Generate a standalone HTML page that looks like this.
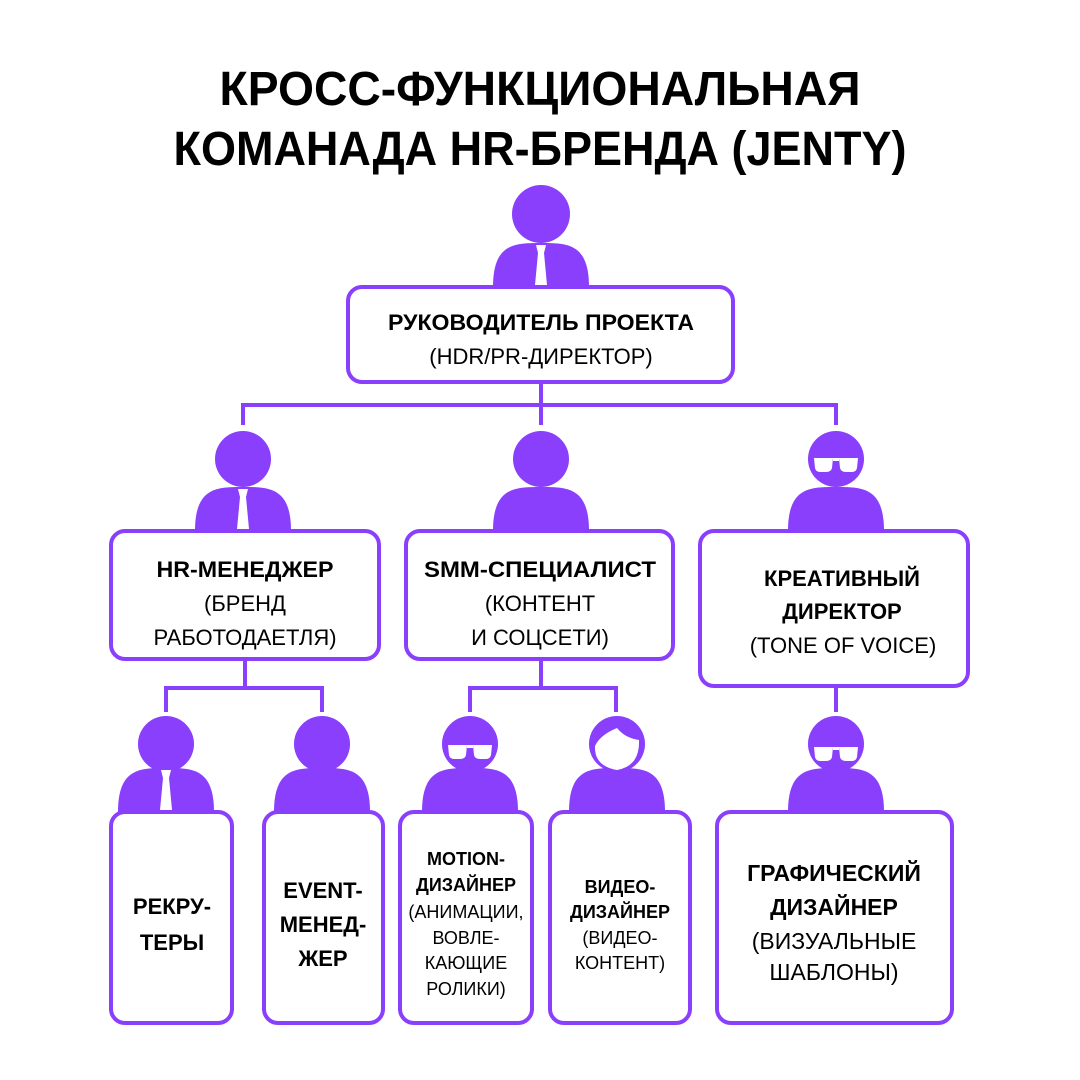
<!DOCTYPE html>
<html><head><meta charset="utf-8"><style>html,body{margin:0;padding:0;background:#fff}svg{display:block}</style></head>
<body>
<svg width="1080" height="1080" viewBox="0 0 1080 1080" xmlns="http://www.w3.org/2000/svg" font-family="Liberation Sans, sans-serif">
<defs>
<g id="body"><path d="M-48 0 C-48 -44 -26 -44 0 -44 C26 -44 48 -44 48 0 Z" fill="#8a3ffc"/></g>
<g id="tie"><path d="M-5 -42 L5 -42 L3 -34 L6 -2 L-6 -2 L-3 -34 Z" fill="#fff"/></g>
<g id="glasses" fill="#fff"><path d="M-22 -5 L-3 -5 L-4 5 Q-5 9 -10 9 L-16 9 Q-20 9 -21 5 Z M3 -5 L22 -5 L21 5 Q20 9 16 9 L10 9 Q5 9 4 5 Z M-3 -5 L3 -5 L3 -2 L-3 -2 Z"/></g>
</defs>
<rect width="1080" height="1080" fill="#fff"/>
<g font-weight="bold" font-size="48" text-anchor="middle" fill="#000">
<text x="540" y="105" textLength="641" lengthAdjust="spacingAndGlyphs">КРОСС-ФУНКЦИОНАЛЬНАЯ</text>
<text x="540" y="165" textLength="733" lengthAdjust="spacingAndGlyphs">КОМАНАДА HR-БРЕНДА (JENTY)</text>
</g>
<g stroke="#8a3ffc" stroke-width="4" fill="none">
<path d="M541 382 V405 M243 425 V405 H836 V425 M541 405 V425"/>
<path d="M245 659 V688 M166 712 V688 H322 V712"/>
<path d="M541 659 V688 M470 712 V688 H616 V712"/>
<path d="M836 686 V712"/>
</g>
<g fill="#8a3ffc">
<circle cx="541" cy="214" r="29"/><use href="#body" x="541" y="287"/><use href="#tie" x="541" y="287"/>
<circle cx="243" cy="459" r="28"/><use href="#body" x="243" y="531"/><use href="#tie" x="243" y="531"/>
<circle cx="541" cy="459" r="28"/><use href="#body" x="541" y="531"/>
<circle cx="836" cy="459" r="28"/><use href="#body" x="836" y="531"/><use href="#glasses" x="836" y="463"/>
<circle cx="166" cy="744" r="28"/><use href="#body" x="166" y="812"/><use href="#tie" x="166" y="812"/>
<circle cx="322" cy="744" r="28"/><use href="#body" x="322" y="812"/>
<circle cx="470" cy="744" r="28"/><use href="#body" x="470" y="812"/><use href="#glasses" x="470" y="750"/>
<circle cx="617" cy="744" r="28"/><use href="#body" x="617" y="812"/>
<path d="M595 746 Q600 735 617 728 Q625 738 639 740 Q640 766 617 770 Q594 766 595 746 Z" fill="#fff"/>
<circle cx="836" cy="744" r="28"/><use href="#body" x="836" y="812"/><use href="#glasses" x="836" y="752"/>
</g>
<g stroke="#8a3ffc" stroke-width="4" fill="#fff">
<rect x="348" y="287" width="385" height="95" rx="14"/>
<rect x="111" y="531" width="268" height="128" rx="14"/>
<rect x="406" y="531" width="267" height="128" rx="14"/>
<rect x="700" y="531" width="268" height="155" rx="14"/>
<rect x="111" y="812" width="121" height="211" rx="14"/>
<rect x="264" y="812" width="119" height="211" rx="14"/>
<rect x="400" y="812" width="132" height="211" rx="14"/>
<rect x="550" y="812" width="140" height="211" rx="14"/>
<rect x="717" y="812" width="235" height="211" rx="14"/>
</g>
<g text-anchor="middle" fill="#000" font-size="22">
<text x="541" y="330" font-weight="bold" textLength="306" lengthAdjust="spacingAndGlyphs">РУКОВОДИТЕЛЬ ПРОЕКТА</text>
<text x="541" y="364">(HDR/PR-ДИРЕКТОР)</text>
<text x="245" y="577" font-weight="bold" textLength="177" lengthAdjust="spacingAndGlyphs">HR-МЕНЕДЖЕР</text>
<text x="245" y="611">(БРЕНД</text>
<text x="245" y="645">РАБОТОДАЕТЛЯ)</text>
<text x="540" y="577" font-weight="bold" textLength="232" lengthAdjust="spacingAndGlyphs">SMM-СПЕЦИАЛИСТ</text>
<text x="540" y="611">(КОНТЕНТ</text>
<text x="540" y="645">И СОЦСЕТИ)</text>
<text x="842" y="586" font-weight="bold">КРЕАТИВНЫЙ</text>
<text x="842" y="619" font-weight="bold">ДИРЕКТОР</text>
<text x="843" y="653">(TONE OF VOICE)</text>
<text x="172" y="914" font-weight="bold">РЕКРУ-</text>
<text x="172" y="950" font-weight="bold">ТЕРЫ</text>
<text x="323" y="898" font-weight="bold">EVENT-</text>
<text x="323" y="932" font-weight="bold">МЕНЕД-</text>
<text x="323" y="966" font-weight="bold">ЖЕР</text>
<text x="834" y="881" font-weight="bold" font-size="23">ГРАФИЧЕСКИЙ</text>
<text x="834" y="915" font-weight="bold" font-size="23">ДИЗАЙНЕР</text>
<text x="834" y="949" font-size="23">(ВИЗУАЛЬНЫЕ</text>
<text x="834" y="980" font-size="23">ШАБЛОНЫ)</text>
</g>
<g text-anchor="middle" fill="#000" font-size="18">
<text x="466" y="865" font-weight="bold">MOTION-</text>
<text x="466" y="891" font-weight="bold">ДИЗАЙНЕР</text>
<text x="466" y="918">(АНИМАЦИИ,</text>
<text x="466" y="944">ВОВЛЕ-</text>
<text x="466" y="969">КАЮЩИЕ</text>
<text x="466" y="995">РОЛИКИ)</text>
<text x="620" y="893" font-weight="bold">ВИДЕО-</text>
<text x="620" y="918" font-weight="bold">ДИЗАЙНЕР</text>
<text x="620" y="944">(ВИДЕО-</text>
<text x="620" y="969">КОНТЕНТ)</text>
</g>
</svg>
</body></html>
